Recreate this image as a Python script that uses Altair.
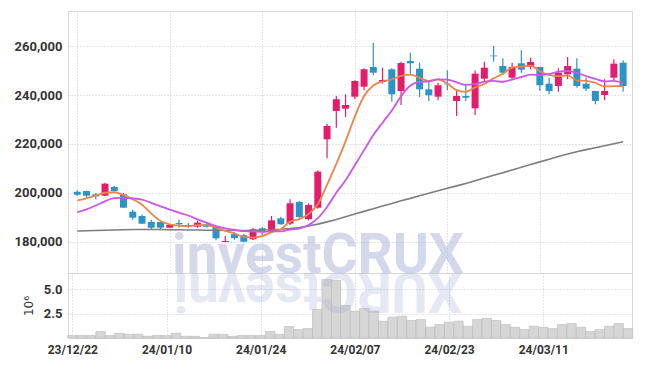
import altair as alt
import pandas as pd

# ---- data ----
idx = list(range(60))
open_ = [200500, 200800, 199450, 198900, 202450, 199450, 192370, 190600, 188160, 188160,
         185830, 187750, 186940, 186260, 187220, 186120, 180000, 183200, 182740, 181100,
         185580, 184080, 189650, 187470, 196330, 189300, 194000, 221920, 233470, 234410,
         239310, 243390, 251430, 245310, 250500, 241640, 253880, 250740, 242330, 239310,
         244600, 237560, 239600, 234570, 246660, 256100, 251840, 247070, 252940, 251560,
         251430, 244620, 243680, 248450, 250740, 244620, 241640, 240010, 247070, 253190]
high = [201100, 200900, 200000, 204200, 202860, 200000, 193200, 191200, 189100, 188300,
        187300, 189100, 187750, 188700, 188300, 186300, 182450, 184000, 183390, 185700,
        186120, 190610, 190330, 197430, 196730, 195800, 209250, 228290, 239600, 240290,
        246000, 250900, 261350, 251150, 250900, 253600, 257270, 253190, 246000, 245020,
        250090, 241640, 244620, 250000, 253600, 260010, 254970, 253190, 258250, 255230,
        251430, 247070, 250900, 255500, 254970, 247070, 241640, 246410, 254570, 254160]
low = [198800, 198100, 197400, 198650, 200600, 194000, 189100, 187300, 185300, 185300,
       185700, 185830, 185830, 185830, 185830, 180700, 179900, 180900, 179870, 180800,
       182860, 183670, 187000, 186940, 189920, 188860, 193600, 214160, 226660, 231020,
       238250, 242040, 248050, 244620, 237270, 235920, 248700, 239190, 237560, 237840,
       241920, 231430, 237560, 231840, 245430, 253600, 248170, 246410, 249110, 250500,
       241640, 240290, 241370, 246410, 242990, 241640, 236190, 237840, 246000, 241370]
close = [199300, 198900, 198650, 203800, 200800, 194000, 189920, 187470, 185830, 185830,
         186940, 187220, 186400, 187880, 186260, 181500, 180400, 181600, 180120, 185170,
         184490, 188840, 187220, 195800, 190200, 195100, 208700, 227350, 238250, 235920,
         245720, 250500, 249110, 246130, 240290, 253070, 252940, 242330, 239880, 243960,
         244350, 239600, 238900, 248700, 251150, 255800, 249110, 251430, 250330, 253480,
         243960, 241640, 249110, 251840, 243680, 242580, 237560, 241640, 252780, 243680]
volume_m = [0.25, 0.25, 0.25, 0.66, 0.25, 0.48, 0.38, 0.38, 0.17, 0.25,
            0.25, 0.48, 0.17, 0.17, 0.05, 0.38, 0.38, 0.17, 0.25, 0.25,
            0.25, 0.66, 0.38, 1.17, 0.86, 0.96, 2.92, 6.00, 5.90, 3.33,
            2.75, 3.02, 2.75, 1.72, 2.13, 2.23, 1.79, 1.89, 1.10, 1.38,
            1.62, 1.72, 1.20, 1.89, 2.00, 1.79, 1.38, 1.10, 0.86, 1.20,
            1.10, 0.96, 1.38, 1.48, 1.10, 0.66, 0.86, 1.20, 1.48, 0.96]
ma_short = [197000, 197800, 199000, 200100, 200300, 199200, 197400, 195200, 191600, 188600,
            187200, 186700, 186400, 186900, 186900, 185900, 184500, 183500, 182000, 181800,
            182400, 184000, 185200, 188300, 189300, 191400, 195400, 203400, 211900, 221100,
            231200, 239600, 243900, 245500, 246400, 247800, 248300, 247000, 245700, 246400,
            244700, 242000, 241300, 243100, 244500, 246800, 248700, 251200, 251600, 252000,
            249700, 248200, 247700, 248000, 246000, 245800, 245000, 243500, 243600, 243600]
ma_mid = [192200, 193300, 194900, 196600, 197900, 198000, 197800, 197300, 196000, 194500,
          193200, 192000, 190800, 189200, 187800, 186500, 185600, 185000, 184400, 184300,
          184100, 184300, 184300, 185100, 185500, 186900, 189700, 194300, 200100, 205200,
          211300, 217500, 223700, 228700, 233700, 239500, 243900, 245400, 245600, 246400,
          246300, 245200, 244100, 244400, 245500, 245800, 245400, 246300, 247300, 248300,
          248200, 248500, 249500, 249800, 249000, 247700, 246600, 245600, 245800, 244800]
ma_long = [184500, 184600, 184700, 184800, 184900, 185000, 185100, 185100, 185100, 185100,
           185000, 185000, 184900, 184900, 184800, 184800, 184700, 184700, 184700, 184800,
           184900, 185000, 185200, 185500, 185900, 186500, 187300, 188200, 189200, 190300,
           191400, 192500, 193600, 194700, 195700, 196800, 197800, 198900, 199900, 200900,
           201900, 202900, 203900, 205000, 206100, 207200, 208300, 209400, 210500, 211600,
           212700, 213800, 214900, 215900, 216800, 217700, 218500, 219300, 220100, 220900]
tick_pos = [0, 10, 20, 30, 40, 50]
tick_labels = ["23/12/22", "24/01/10", "24/01/24", "24/02/07", "24/02/23", "24/03/11"]
price_ticks = [180000, 200000, 220000, 240000, 260000]
vol_ticks = [2.5, 5.0]
watermark = "investCRUX"

RED = "#e31c6b"
BLUE = "#2c93c7"
ORANGE = "#ef8447"
PURPLE = "#cc55ea"
GREY = "#7d7d7d"
WM = "#a9b4d8"
WM_SIZE = 55
WM_CENTER = 250

df = pd.DataFrame({"i": idx, "open": open_, "high": high, "low": low, "close": close,
                   "vol": volume_m, "ma5": ma_short, "ma10": ma_mid, "ma60": ma_long})
wm = pd.DataFrame({"t": [watermark]})

# reflected watermark: one glyph per row, each turned over in place (approximate
# Roboto Bold advance widths in em)
adv = {"i": 0.26, "n": 0.55, "v": 0.49, "e": 0.53, "s": 0.52, "t": 0.33,
       "C": 0.65, "R": 0.63, "U": 0.65, "X": 0.63}
widths = [adv[c] * WM_SIZE for c in watermark]
start = WM_CENTER - sum(widths) / 2
px, acc = [], start
for w in widths:
    px.append(acc + w / 2)
    acc += w
wm_chars = pd.DataFrame({"c": list(watermark), "px": px})

xdom = [-0.46, 59.42]
label_expr = "[" + ",".join("'%s'" % s for s in tick_labels) + "][round(datum.value / 10)]"

x_top = alt.X("i:Q", scale=alt.Scale(domain=xdom, nice=False, zero=False),
              axis=alt.Axis(values=tick_pos, labels=False, ticks=False, domain=False,
                            title=None, grid=True))
yscale = alt.Scale(domain=[167340, 274290], nice=False, zero=False)
y_axis = alt.Axis(values=price_ticks, format=",d", title=None, labelPadding=6,
                  labelFontSize=13)


def yenc(field):
    return alt.Y(field, type="quantitative", scale=yscale, axis=y_axis, title=None)


color_cond = alt.condition("datum.close >= datum.open", alt.value(RED), alt.value(BLUE))
base = alt.Chart(df)

wm_main = alt.Chart(wm).mark_text(font="Roboto", fontWeight="bold", fontSize=WM_SIZE,
                                  color=WM, opacity=0.5, align="center",
                                  baseline="alphabetic").encode(
    text="t:N", x=alt.value(WM_CENTER), y=alt.value(262))
wick = base.mark_rule(strokeWidth=1.2).encode(
    x=x_top, y=yenc("low"), y2="high:Q", color=color_cond)
body = base.mark_bar(size=7).encode(
    x=x_top, y=yenc("open"), y2="close:Q", color=color_cond)
l60 = base.mark_line(color=GREY, strokeWidth=1.6).encode(x=x_top, y=yenc("ma60"))
l5 = base.mark_line(color=ORANGE, strokeWidth=1.8, interpolate="monotone").encode(
    x=x_top, y=yenc("ma5"))
l10 = base.mark_line(color=PURPLE, strokeWidth=1.8, interpolate="monotone").encode(
    x=x_top, y=yenc("ma10"))

price = alt.layer(wm_main, wick, body, l60, l5, l10).properties(width=564, height=262)

vbase = base.transform_calculate(x0="datum.i - 0.5", x1="datum.i + 0.5")
vol = vbase.mark_bar(fill="#d6d6d6", stroke="#b8b8b8", strokeWidth=0.6).encode(
    x=alt.X("x0:Q", scale=alt.Scale(domain=xdom, nice=False, zero=False),
            axis=alt.Axis(values=tick_pos, labelExpr=label_expr, title=None, grid=True,
                          ticks=False, domain=False, labelPadding=6, labelFontSize=12)),
    x2="x1:Q",
    y=alt.Y("vol:Q", scale=alt.Scale(domain=[0, 6.66], nice=False),
            axis=alt.Axis(values=vol_ticks, format=".1f", title="10⁶", labelPadding=6,
                          labelFontSize=13, titleFont="DejaVu Sans", titleFontWeight="normal",
                          titleFontSize=12, titleColor="#333333", titlePadding=8)),
    y2=alt.datum(0))
wm_refl = alt.Chart(wm_chars).mark_text(font="Roboto", fontWeight="bold", fontSize=WM_SIZE,
                                        color=WM, opacity=0.3, align="center",
                                        baseline="alphabetic", angle=180).encode(
    text="c:N", x=alt.X("px:Q", scale=None, axis=None), y=alt.value(0))
volume = alt.layer(vol, wm_refl).properties(width=564, height=65)

chart = alt.vconcat(price, volume, spacing=0, bounds="flush").properties(
    padding={"left": 13, "top": 10, "right": 10, "bottom": 5}
).configure_view(stroke="#d8d8d8").configure_axis(
    labelFont="Roboto", labelFontWeight="bold", labelColor="#333333",
    gridColor="#c3c7da", gridDash=[1, 2], gridWidth=1, ticks=False, domain=False
)

chart.save("out.html", embed_options={"renderer": "svg", "actions": False})
